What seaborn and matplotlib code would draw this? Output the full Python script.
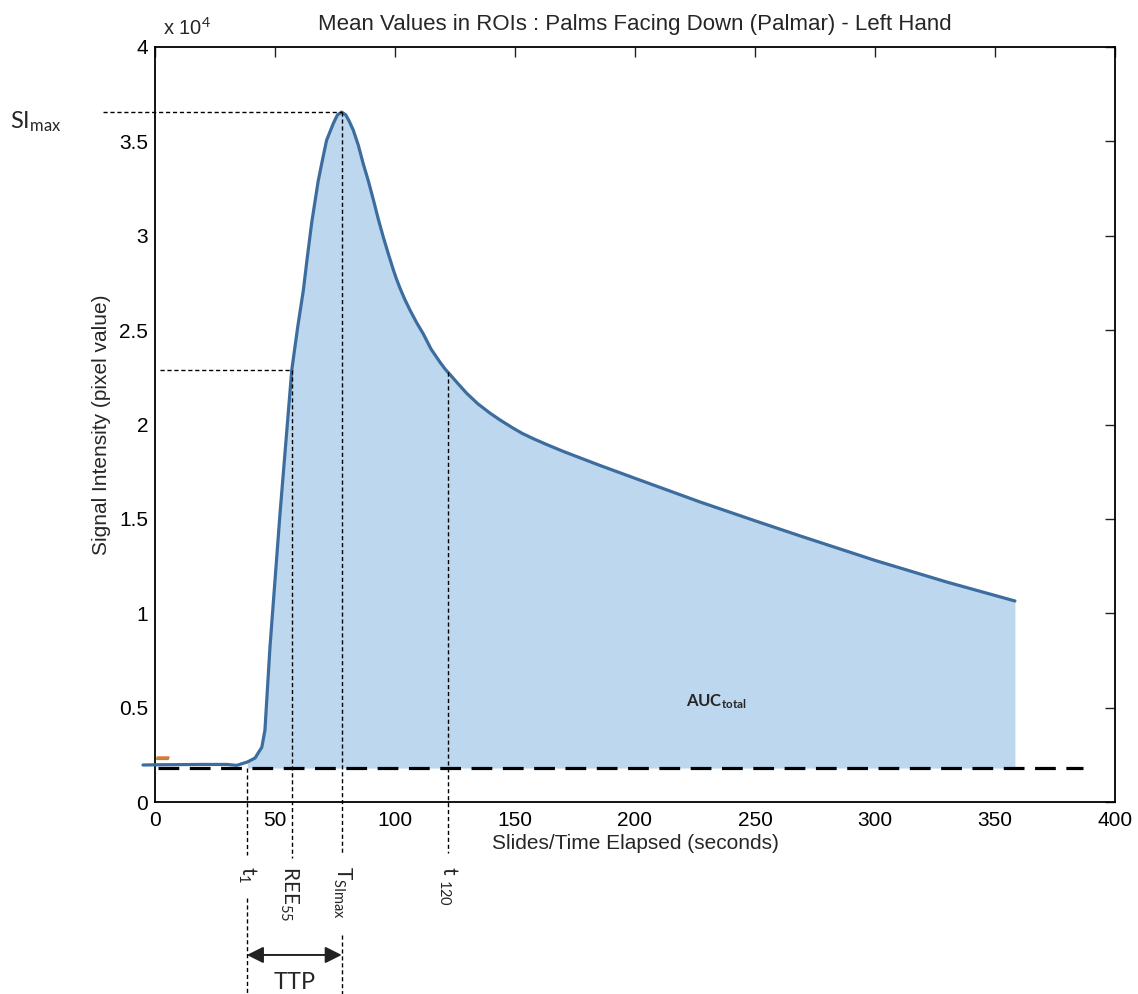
import numpy as np
import matplotlib
matplotlib.use("Agg")
import matplotlib.pyplot as plt
import seaborn as sns

# curve (time in s, signal in pixel value)
time_s = [-5, 0, 10, 20, 30, 34, 38.5, 41.7, 43.75, 44.5, 45.8, 47.9, 52.1, 57.0,
          59.5, 61.8, 63.5, 65.3, 68.0, 70.0, 71.5, 74.3, 76.0, 77.8, 79.5, 80.8,
          82.6, 84.7, 86.8, 88.9, 91.0, 93.0, 95.1, 97.2, 99.3, 100.5, 102.0, 104.0,
          106.25, 109.0, 111.8, 115.0, 118.75, 120.8, 122.9, 126.0, 129.9, 134.5,
          139.6, 144.0, 149.3, 153.0, 157.6, 163.0, 170, 185, 200, 227, 250,
          268.75, 300, 330, 358.3]
signal = [1960, 1970, 1980, 1990, 1990, 1940, 2120, 2330, 2750, 2900, 3800, 8200,
          15300, 22900, 25200, 27100, 28900, 30700, 32900, 34160, 35060, 35950,
          36400, 36550, 36400, 36100, 35600, 34800, 33800, 32900, 31900, 30900,
          29940, 29050, 28200, 27750, 27250, 26650, 26060, 25400, 24800, 24000,
          23300, 22950, 22650, 22200, 21650, 21100, 20600, 20220, 19800, 19530,
          19250, 18950, 18580, 17850, 17150, 15900, 14900, 14100, 12800, 11650,
          10650]

# dashed baseline
baseline_x = [1.25, 386.7]
baseline_y = [1800, 1800]

# small legend remnant in the corner
remnant_x = [1.0, 5.5]
remnant_orange = [2390, 2390]
remnant_green = [2290, 2290]

# marked time points
t1 = 38.3
t_ree55 = 57.0
t_simax = 77.8
t120 = 122.1

x_ticks = [0, 50, 100, 150, 200, 250, 300, 350, 400]
y_ticks = [0, 5000, 10000, 15000, 20000, 25000, 30000, 35000, 40000]

sns.set_theme(style="white")
plt.rcParams['font.family'] = ['Liberation Sans', 'DejaVu Sans']
plt.rcParams['mathtext.fontset'] = 'custom'
plt.rcParams['mathtext.rm'] = 'Lato'
plt.rcParams['mathtext.it'] = 'Lato:italic'
plt.rcParams['mathtext.bf'] = 'Lato:bold'

line_col = '#3d6d9e'
fill_col = '#bdd7ee'
anno_font = ['Lato', 'DejaVu Sans']

fig = plt.figure(figsize=(11.38, 9.94), dpi=100)
ax = fig.add_axes([155 / 1138, 1 - 802 / 994, 960 / 1138, 755 / 994])

t_arr = np.array(time_s)
s_arr = np.array(signal)
mask = t_arr >= t1
ax.fill_between(t_arr[mask], baseline_y[0], s_arr[mask], color=fill_col, lw=0, zorder=1)

sns.lineplot(x=time_s, y=signal, color=line_col, lw=2.3, ax=ax, sort=False, zorder=4)
ax.lines[-1].set_clip_on(False)
ax.lines[-1].set_solid_joinstyle('round')
sns.lineplot(x=baseline_x, y=baseline_y, color='black', lw=2.3, ax=ax, zorder=3)
ax.lines[-1].set_linestyle((0, (6.5, 3.3)))
sns.lineplot(x=remnant_x, y=remnant_green, color='#6aa84f', lw=1.6, ax=ax, zorder=3)
sns.lineplot(x=remnant_x, y=remnant_orange, color='#e8743b', lw=1.8, ax=ax, zorder=3)

ax.set_xlim(0, 400)
ax.set_ylim(0, 40000)
ax.set_xticks(x_ticks)
ax.set_yticks(y_ticks)
ax.yaxis.set_major_formatter(plt.FuncFormatter(lambda v, p: f"{v / 1e4:g}"))
ax.tick_params(direction='in', length=7, width=1, colors='#222222', labelcolor='black',
               labelsize=15, top=True, right=True)
ax.tick_params(axis='x', pad=6.5)
ax.tick_params(axis='y', pad=5)
for sp in ax.spines.values():
    sp.set_color('black')
    sp.set_linewidth(1.3)

ax.set_xlabel('Slides/Time Elapsed (seconds)', fontsize=15, labelpad=3)
ax.set_ylabel('Signal Intensity (pixel value)', fontsize=15, labelpad=6)
ax.set_title('Mean Values in ROIs : Palms Facing Down (Palmar) - Left Hand',
             fontsize=16, pad=12)
ax.text(0.008, 1.011, r'x 10$^4$', transform=ax.transAxes, fontsize=14.5,
        ha='left', va='bottom')

# guide lines
dot = dict(color='black', lw=1, ls=(0, (3, 2)), clip_on=False, zorder=5)
peak = np.interp(t_simax, time_s, signal)
ree = np.interp(t_ree55, time_s, signal)
t120_val = np.interp(t120, time_s, signal)
ax.plot([-21.7, t_simax], [peak, peak], **dot)
ax.plot([2, t_ree55], [ree, ree], **dot)
ax.plot([t1, t1], [baseline_y[0], -2800], **dot)
ax.plot([t1, t1], [-5085, -10170], **dot)
ax.plot([t_ree55, t_ree55], [ree, -2966], **dot)
ax.plot([t_simax, t_simax], [peak, -2800], **dot)
ax.plot([t_simax, t_simax], [-7045, -10170], **dot)
ax.plot([t120, t120], [t120_val, -2700], **dot)

# annotation labels
ax.text(-60.4, peak + 150, r'SI$_{\mathrm{max}}$', fontsize=17, family=anno_font,
        ha='left', va='top')
rot = dict(rotation=270, ha='center', va='top', fontsize=15, family=anno_font)
ax.text(t1, -3390, r't$_{1}$', **rot)
ax.text(t_ree55 - 1.0, -3390, r'REE$_{55}$', **rot)
ax.text(t_simax, -3390, r'T$_{\mathrm{SImax}}$', **rot)
ax.text(t120, -3390, r't $_{120}$', **rot)

ax.annotate('', xy=(t_simax, -8104), xytext=(t1, -8104), annotation_clip=False,
            arrowprops=dict(arrowstyle='<|-|>', color='#222222', lw=1.4,
                            mutation_scale=25, shrinkA=0, shrinkB=0))
ax.text((t1 + t_simax) / 2, -9000, 'TTP', fontsize=17, family=anno_font,
        ha='center', va='top')
ax.text(233.7, 5300, r'$\mathbf{AUC}_{\mathbf{total}}$', fontsize=12,
        ha='center', va='center')

fig.savefig('out.png', dpi=100)
